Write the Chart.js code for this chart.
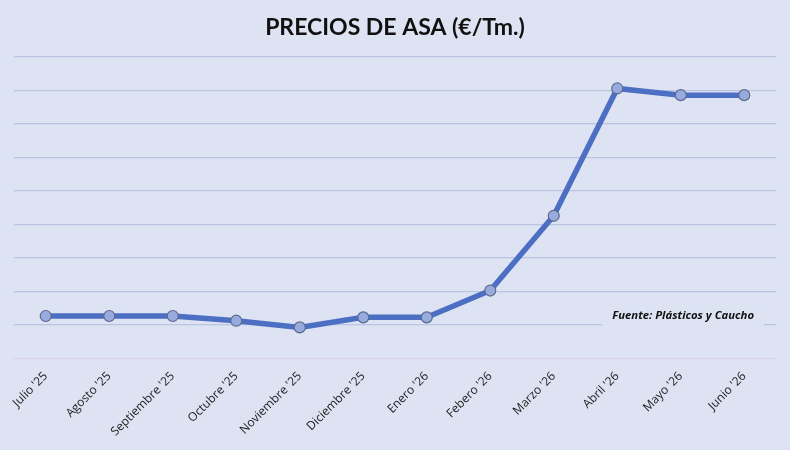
<!DOCTYPE html>
<html>
<head>
<meta charset="utf-8">
<script src="https://cdn.jsdelivr.net/npm/chart.js@4.4.1/dist/chart.umd.min.js"></script>
<style>
  html, body { margin: 0; padding: 0; background: #dde3f3; }
  #wrap { width: 790px; height: 450px; }
</style>
</head>
<body>
<div id="wrap"><canvas id="asaChart"></canvas></div>
<script>
// Data
const months = ["Julio '25", "Agosto '25", "Septiembre '25", "Octubre '25", "Noviembre '25", "Diciembre '25",
                "Enero '26", "Febero '26", "Marzo '26", "Abril '26", "Mayo '26", "Junio '26"];
const prices = [2326, 2326, 2326, 2312, 2292, 2322, 2322, 2402, 2625, 3005, 2985, 2985];
const yMin = 2200;
const yMax = 3100;
const yStep = 100;
const sourceNote = 'Fuente: Plásticos y Caucho';

// Colors
const bgColor = '#dde3f3';
const lineColor = '#4d6fc3';
const pointFill = '#98abdf';
const pointBorder = '#5d6a8e';
const gridColor = '#bcc4e4';
const baseColor = '#d9d2e6';

// Source note box, drawn over the grid
const notePlugin = {
    id: 'sourceNote',
    beforeDatasetsDraw(chart) {
        const { ctx, chartArea } = chart;
        ctx.save();
        ctx.font = "italic bold 11.3px 'Open Sans', sans-serif";
        const w = ctx.measureText(sourceNote).width;
        const x = chartArea.right - 22 - w;
        const y = chart.scales.y.getPixelForValue(yMin + yStep) - 9;
        ctx.fillStyle = bgColor;
        ctx.fillRect(x - 10, y - 10, w + 20, 22);
        ctx.fillStyle = '#111';
        ctx.textBaseline = 'middle';
        ctx.fillText(sourceNote, x, y);
        ctx.restore();
    }
};

const ctx = document.getElementById('asaChart').getContext('2d');
new Chart(ctx, {
    type: 'line',
    data: {
        labels: months,
        datasets: [{
            label: 'ASA',
            data: prices,
            borderColor: lineColor,
            borderWidth: 5.5,
            pointRadius: 5.5,
            pointBackgroundColor: pointFill,
            pointBorderColor: pointBorder,
            pointBorderWidth: 1.2,
            tension: 0
        }]
    },
    options: {
        responsive: true,
        maintainAspectRatio: false,
        animation: false,
        layout: { padding: { left: 14, right: 14, bottom: 8 } },
        plugins: {
            legend: { display: false },
            tooltip: { enabled: false },
            title: {
                display: true,
                text: 'PRECIOS DE ASA (€/Tm.)',
                color: '#111',
                font: { family: "'Lato', sans-serif", size: 23, weight: 'bold' },
                padding: { top: 14, bottom: 15 }
            }
        },
        scales: {
            x: {
                offset: true,
                grid: { display: false },
                border: { display: false },
                ticks: {
                    color: '#222',
                    minRotation: 45,
                    maxRotation: 45,
                    font: { family: "'Open Sans', sans-serif", size: 12 }
                }
            },
            y: {
                min: yMin,
                max: yMax,
                border: { display: false },
                grid: {
                    color: c => c.tick.value === yMin ? baseColor : gridColor,
                    lineWidth: 1.2,
                    drawTicks: false
                },
                ticks: { display: false, stepSize: yStep }
            }
        }
    },
    plugins: [notePlugin]
});
</script>
</body>
</html>
